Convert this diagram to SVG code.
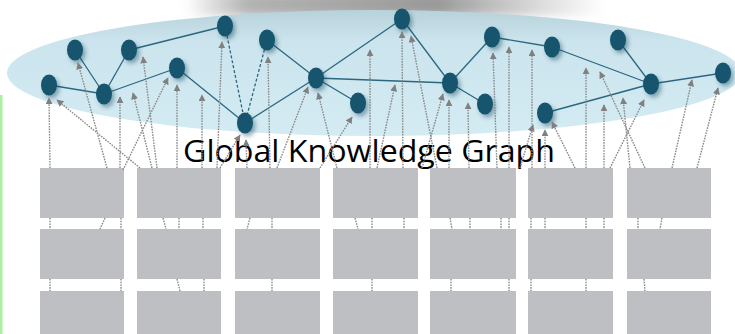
<svg xmlns="http://www.w3.org/2000/svg" width="735" height="334" viewBox="0 0 735 334">
<style>
.edge{stroke:#2b6780;stroke-width:1.3;fill:none}
.dedge{stroke:#2b6780;stroke-width:1.3;fill:none;stroke-dasharray:3 2}
.node{fill:#13556d}
.arr{stroke:#8a8a8a;stroke-width:1.4;fill:none;stroke-dasharray:1.6 1.1;marker-end:url(#ah)}
.link{stroke:#8a8a8a;stroke-width:1.4;fill:none;stroke-dasharray:1.6 1.1}
.box{fill:#bebfc3}
.lbl{font-family:"Open Sans","Liberation Sans",sans-serif;font-size:31px;fill:#000}
</style>
<defs>
<linearGradient id="band" x1="0" y1="0" x2="1" y2="0">
<stop offset="0" stop-color="#a0a0a0" stop-opacity="0"/>
<stop offset="0.15" stop-color="#a0a0a0" stop-opacity="0.8"/>
<stop offset="0.6" stop-color="#999" stop-opacity="1"/>
<stop offset="1" stop-color="#aaa" stop-opacity="0"/>
</linearGradient>
<linearGradient id="ell" x1="0" y1="0" x2="0" y2="1">
<stop offset="0" stop-color="#b8d2db"/>
<stop offset="0.25" stop-color="#cbe4ed"/>
<stop offset="1" stop-color="#d4ebf3"/>
</linearGradient>
<filter id="blur" x="-10%" y="-50%" width="120%" height="200%"><feGaussianBlur stdDeviation="4"/></filter>
<filter id="sh" x="-50%" y="-50%" width="200%" height="200%"><feDropShadow dx="2.5" dy="3" stdDeviation="2" flood-color="#0a3a50" flood-opacity="0.4"/></filter>
<marker id="ah" viewBox="0 0 10 10" refX="9" refY="5" markerWidth="7" markerHeight="7" markerUnits="userSpaceOnUse" orient="auto">
<path d="M0,0 L10,5 L0,10 z" fill="#808080"/>
</marker>
</defs>
<rect x="0" y="0" width="735" height="334" fill="#fff"/>
<rect x="185" y="-8" width="420" height="24" fill="url(#band)" filter="url(#blur)"/>
<rect x="0" y="95" width="2.5" height="239" fill="#a9f0a0"/>
<ellipse cx="374" cy="73" rx="367" ry="63" fill="url(#ell)"/>
<g id="kg-edges">
<line class="edge" x1="49" y1="85" x2="104" y2="94"/>
<line class="edge" x1="75" y1="50" x2="104" y2="94"/>
<line class="edge" x1="104" y1="94" x2="129" y2="50"/>
<line class="edge" x1="129" y1="50" x2="225" y2="26"/>
<line class="edge" x1="104" y1="94" x2="177" y2="68"/>
<line class="edge" x1="177" y1="68" x2="245" y2="123"/>
<line class="dedge" x1="225" y1="26" x2="245" y2="123"/>
<line class="dedge" x1="267" y1="40" x2="245" y2="123"/>
<line class="edge" x1="245" y1="123" x2="316" y2="78"/>
<line class="edge" x1="267" y1="40" x2="316" y2="78"/>
<line class="edge" x1="316" y1="78" x2="358" y2="103"/>
<line class="edge" x1="316" y1="78" x2="402" y2="19"/>
<line class="edge" x1="316" y1="78" x2="450" y2="83"/>
<line class="edge" x1="402" y1="19" x2="450" y2="83"/>
<line class="edge" x1="450" y1="83" x2="492" y2="37"/>
<line class="edge" x1="450" y1="83" x2="485" y2="104"/>
<line class="edge" x1="492" y1="37" x2="552" y2="47"/>
<line class="edge" x1="552" y1="47" x2="651" y2="84"/>
<line class="edge" x1="618" y1="40" x2="651" y2="84"/>
<line class="edge" x1="545" y1="113" x2="651" y2="84"/>
<line class="edge" x1="651" y1="84" x2="723" y2="73"/>
</g>
<g id="kg-nodes" class="node" filter="url(#sh)">
<g id="n1"><ellipse cx="49" cy="85" rx="8" ry="10.5"/></g>
<g id="n2"><ellipse cx="75" cy="50" rx="8" ry="10.5"/></g>
<g id="n3"><ellipse cx="104" cy="94" rx="8" ry="10.5"/></g>
<g id="n4"><ellipse cx="129" cy="50" rx="8" ry="10.5"/></g>
<g id="n5"><ellipse cx="177" cy="68" rx="8" ry="10.5"/></g>
<g id="n6"><ellipse cx="225" cy="26" rx="8" ry="10.5"/></g>
<g id="n7"><ellipse cx="245" cy="123" rx="8" ry="10.5"/></g>
<g id="n8"><ellipse cx="267" cy="40" rx="8" ry="10.5"/></g>
<g id="n9"><ellipse cx="316" cy="78" rx="8" ry="10.5"/></g>
<g id="n10"><ellipse cx="358" cy="103" rx="8" ry="10.5"/></g>
<g id="n11"><ellipse cx="402" cy="19" rx="8" ry="10.5"/></g>
<g id="n12"><ellipse cx="450" cy="83" rx="8" ry="10.5"/></g>
<g id="n13"><ellipse cx="485" cy="104" rx="8" ry="10.5"/></g>
<g id="n14"><ellipse cx="492" cy="37" rx="8" ry="10.5"/></g>
<g id="n15"><ellipse cx="552" cy="47" rx="8" ry="10.5"/></g>
<g id="n16"><ellipse cx="545" cy="113" rx="8" ry="10.5"/></g>
<g id="n17"><ellipse cx="618" cy="40" rx="8" ry="10.5"/></g>
<g id="n18"><ellipse cx="651" cy="84" rx="8" ry="10.5"/></g>
<g id="n19"><ellipse cx="723" cy="73" rx="8" ry="10.5"/></g>
</g>
<text class="lbl" x="183" y="162" textLength="372" lengthAdjust="spacingAndGlyphs">Global Knowledge Graph</text>
<g id="boxes">
<g id="r1">
<rect class="box" x="40" y="168" width="84" height="50"/><rect class="box" x="137" y="168" width="84" height="50"/><rect class="box" x="235" y="168" width="85" height="50"/><rect class="box" x="333" y="168" width="85" height="50"/><rect class="box" x="430" y="168" width="86" height="50"/><rect class="box" x="528" y="168" width="85" height="50"/><rect class="box" x="627" y="168" width="84" height="50"/>
</g>
<g id="r2">
<rect class="box" x="40" y="229" width="84" height="50"/><rect class="box" x="137" y="229" width="84" height="50"/><rect class="box" x="235" y="229" width="85" height="50"/><rect class="box" x="333" y="229" width="85" height="50"/><rect class="box" x="430" y="229" width="86" height="50"/><rect class="box" x="528" y="229" width="85" height="50"/><rect class="box" x="627" y="229" width="84" height="50"/>
</g>
<g id="r3">
<rect class="box" x="40" y="291" width="84" height="50"/><rect class="box" x="137" y="291" width="84" height="50"/><rect class="box" x="235" y="291" width="85" height="50"/><rect class="box" x="333" y="291" width="85" height="50"/><rect class="box" x="430" y="291" width="86" height="50"/><rect class="box" x="528" y="291" width="85" height="50"/><rect class="box" x="627" y="291" width="84" height="50"/>
</g>
</g>
<g id="connectors">
<line class="arr" x1="50" y1="168" x2="49" y2="98"/>
<line class="arr" x1="107" y1="168" x2="78" y2="63"/>
<line class="arr" x1="120" y1="168" x2="120" y2="97"/>
<line class="arr" x1="123" y1="170" x2="168" y2="78"/>
<line class="arr" x1="140" y1="168" x2="57" y2="100"/>
<line class="arr" x1="152" y1="168" x2="133" y2="93"/>
<line class="arr" x1="157" y1="168" x2="143" y2="57"/>
<line class="arr" x1="177" y1="168" x2="177" y2="85"/>
<line class="arr" x1="202" y1="168" x2="202" y2="95"/>
<line class="arr" x1="217" y1="168" x2="222" y2="42"/>
<line class="arr" x1="220" y1="168" x2="240" y2="135"/>
<line class="arr" x1="247" y1="168" x2="246" y2="140"/>
<line class="arr" x1="270" y1="168" x2="268" y2="57"/>
<line class="arr" x1="277" y1="168" x2="308" y2="87"/>
<line class="arr" x1="337" y1="168" x2="318" y2="93"/>
<line class="arr" x1="320" y1="168" x2="352" y2="117"/>
<line class="arr" x1="370" y1="168" x2="370" y2="50"/>
<line class="arr" x1="377" y1="168" x2="395" y2="85"/>
<line class="arr" x1="403" y1="168" x2="402" y2="32"/>
<line class="arr" x1="437" y1="168" x2="411" y2="36"/>
<line class="arr" x1="422" y1="168" x2="443" y2="94"/>
<line class="arr" x1="449" y1="168" x2="449" y2="100"/>
<line class="arr" x1="469" y1="168" x2="468" y2="103"/>
<line class="arr" x1="497" y1="168" x2="493" y2="53"/>
<line class="arr" x1="509" y1="168" x2="509" y2="47"/>
<line class="arr" x1="532" y1="168" x2="532" y2="50"/>
<line class="arr" x1="520" y1="168" x2="533" y2="125"/>
<line class="arr" x1="545" y1="168" x2="545" y2="130"/>
<line class="arr" x1="575" y1="168" x2="552" y2="122"/>
<line class="arr" x1="586" y1="168" x2="586" y2="68"/>
<line class="arr" x1="645" y1="168" x2="600" y2="72"/>
<line class="arr" x1="604" y1="168" x2="604" y2="105"/>
<line class="arr" x1="630" y1="168" x2="623" y2="98"/>
<line class="arr" x1="610" y1="168" x2="644" y2="100"/>
<line class="arr" x1="672" y1="168" x2="692" y2="80"/>
<line class="arr" x1="697" y1="168" x2="718" y2="88"/>
<line class="link" x1="50" y1="218" x2="50" y2="229"/>
<line class="link" x1="105" y1="218" x2="100" y2="229"/>
<line class="link" x1="121" y1="218" x2="121" y2="229"/>
<line class="link" x1="163" y1="218" x2="166" y2="229"/>
<line class="link" x1="179" y1="218" x2="179" y2="229"/>
<line class="link" x1="203" y1="218" x2="203" y2="229"/>
<line class="link" x1="250" y1="218" x2="247" y2="229"/>
<line class="link" x1="272" y1="218" x2="272" y2="229"/>
<line class="link" x1="355" y1="218" x2="358" y2="229"/>
<line class="link" x1="372" y1="218" x2="372" y2="229"/>
<line class="link" x1="404" y1="218" x2="404" y2="229"/>
<line class="link" x1="450" y1="218" x2="452" y2="229"/>
<line class="link" x1="470" y1="218" x2="470" y2="229"/>
<line class="link" x1="501" y1="218" x2="501" y2="229"/>
<line class="link" x1="509" y1="218" x2="509" y2="229"/>
<line class="link" x1="531" y1="218" x2="531" y2="229"/>
<line class="link" x1="545" y1="218" x2="545" y2="229"/>
<line class="link" x1="586" y1="218" x2="586" y2="229"/>
<line class="link" x1="604" y1="218" x2="604" y2="229"/>
<line class="link" x1="638" y1="218" x2="638" y2="229"/>
<line class="link" x1="662" y1="218" x2="660" y2="229"/>
<line class="link" x1="50" y1="279" x2="50" y2="291"/>
<line class="link" x1="121" y1="279" x2="121" y2="291"/>
<line class="link" x1="177" y1="279" x2="180" y2="291"/>
<line class="link" x1="204" y1="279" x2="204" y2="291"/>
<line class="link" x1="272" y1="279" x2="272" y2="291"/>
<line class="link" x1="372" y1="279" x2="372" y2="291"/>
<line class="link" x1="451" y1="279" x2="451" y2="291"/>
<line class="link" x1="509" y1="279" x2="509" y2="291"/>
<line class="link" x1="531" y1="279" x2="531" y2="291"/>
<line class="link" x1="586" y1="279" x2="586" y2="291"/>
<line class="link" x1="644" y1="279" x2="645" y2="291"/>
</g>
</svg>
